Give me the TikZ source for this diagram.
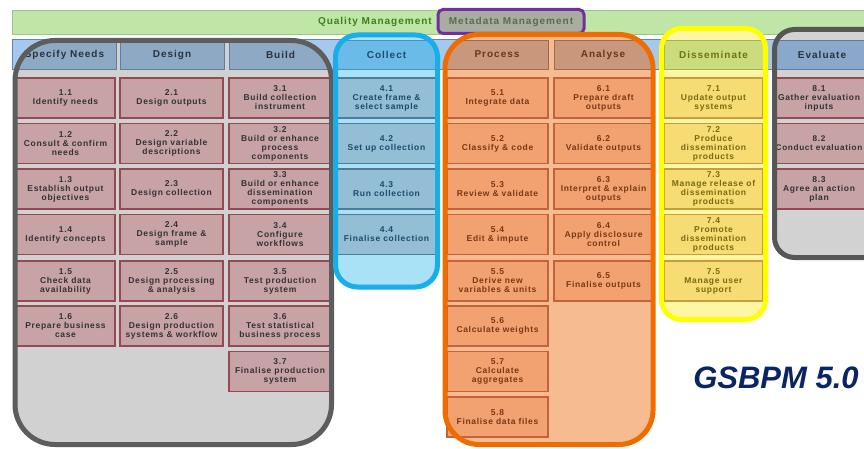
\documentclass[tikz,border=0pt]{standalone}
\usepackage{fontspec}
\setmainfont{Liberation Sans}
\newfontfamily\boxfont[LetterSpace=8]{Liberation Sans}
\newfontfamily\hdrfont[LetterSpace=10]{Liberation Sans}
\definecolor{qmFill}{HTML}{BFE6A6}
\definecolor{qmDraw}{HTML}{98C888}
\definecolor{qmTxt}{HTML}{3E7F1E}
\definecolor{mdFill}{HTML}{A8ADA0}
\definecolor{mdDraw}{HTML}{7030A0}
\definecolor{mdTxt}{HTML}{5B6B52}
\definecolor{stripFill}{HTML}{A5C8EC}
\definecolor{stripDraw}{HTML}{5A86BB}
\definecolor{gReg}{HTML}{D1D1D1}
\definecolor{gLine}{HTML}{5D5D5D}
\definecolor{gHdr}{HTML}{8EA9C3}
\definecolor{gHdrB}{HTML}{5B7EA3}
\definecolor{gHdrT}{HTML}{2A323E}
\definecolor{gBox}{HTML}{C7A3A6}
\definecolor{gBoxB}{HTML}{944A52}
\definecolor{gTxt}{HTML}{333333}
\definecolor{bReg}{HTML}{A9E1F7}
\definecolor{bLine}{HTML}{17AEEA}
\definecolor{bHdr}{HTML}{6BBBE9}
\definecolor{bHdrB}{HTML}{4D90C0}
\definecolor{bTxt}{HTML}{1D4B6B}
\definecolor{bBox}{HTML}{94BDD6}
\definecolor{bBoxB}{HTML}{4D7C9A}
\definecolor{oReg}{HTML}{F6BB8E}
\definecolor{oLine}{HTML}{EF6C00}
\definecolor{oHdr}{HTML}{C9987C}
\definecolor{oHdrB}{HTML}{9C6B50}
\definecolor{oHdrT}{HTML}{6B3618}
\definecolor{oBox}{HTML}{F1A270}
\definecolor{oBoxB}{HTML}{C4633A}
\definecolor{oTxt}{HTML}{7A3814}
\definecolor{yReg}{HTML}{FDF6A4}
\definecolor{yLine}{HTML}{FFFF00}
\definecolor{yHdr}{HTML}{CADC7C}
\definecolor{yHdrB}{HTML}{A8B050}
\definecolor{yHdrT}{HTML}{6D7318}
\definecolor{yBox}{HTML}{F6DC73}
\definecolor{yBoxB}{HTML}{C99D3A}
\definecolor{yTxt}{HTML}{7B6A12}
\definecolor{eReg}{HTML}{D2D2D2}
\definecolor{eLine}{HTML}{565656}
\definecolor{eHdr}{HTML}{8AA8C9}
\definecolor{eHdrB}{HTML}{5A7EA8}
\definecolor{navy}{HTML}{0B2463}
\tikzset{
  hdr/.style={draw, line width=0.8pt, minimum height=29pt, inner sep=0pt,
    font=\hdrfont\bfseries\fontsize{10}{12}\selectfont},
  hG/.style={hdr, fill=gHdr, draw=gHdrB, text=gHdrT},
  hB/.style={hdr, fill=bHdr, draw=bHdrB, text=bTxt},
  hO/.style={hdr, fill=oHdr, draw=oHdrB, text=oHdrT},
  hY/.style={hdr, fill=yHdr, draw=yHdrB, text=yHdrT},
  hE/.style={hdr, fill=eHdr, draw=eHdrB, text=gHdrT},
  tsk/.style={draw, line width=1.1pt, minimum height=40pt, inner sep=1pt, align=center,
    font=\boxfont\bfseries\fontsize{8.5}{9}\selectfont},
  tG/.style={tsk, fill=gBox, draw=gBoxB, text=gTxt},
  tB/.style={tsk, fill=bBox, draw=bBoxB, text=bTxt},
  tO/.style={tsk, fill=oBox, draw=oBoxB, text=oTxt},
  tY/.style={tsk, fill=yBox, draw=yBoxB, text=yTxt},
  region/.style={line width=5pt},
}
\begin{document}
\begin{tikzpicture}[x=1pt, y=-1pt]
\useasboundingbox (0,0) rectangle (864,449);
\clip (0,0) rectangle (864,449);
\fill[white] (0,0) rectangle (864,449);
% quality management bar
\draw[fill=qmFill, draw=qmDraw, line width=0.8pt] (12,10) rectangle (880,34);
\node[anchor=east, text=qmTxt, font=\hdrfont\bfseries\fontsize{10}{12}\selectfont, inner sep=0pt] (qm) at (432,22) {Quality Management};
\node[draw=mdDraw, fill=mdFill, line width=3pt, rounded corners=5pt, minimum width=146pt, minimum height=24pt, inner sep=0pt,
  text=mdTxt, font=\hdrfont\bfseries\fontsize{10}{12}\selectfont] (md) at (511,21.5) {Metadata Management};
% header strip
\draw[fill=stripFill, draw=stripDraw, line width=0.8pt] (12.5,39.5) rectangle (880,69.5);
% region fills
\fill[gReg, rounded corners=40pt] (15,40.5) rectangle (331.5,444.5);
\fill[bReg, rounded corners=22pt] (335.5,35) rectangle (437.5,287);
\fill[oReg, rounded corners=34pt] (445,34.5) rectangle (653,444.5);
\fill[yReg, rounded corners=20pt] (661.5,28.5) rectangle (765.5,319.5);
\fill[eReg, rounded corners=20pt] (774.5,29.5) rectangle (900,257.5);
% headers clipped to their regions
\begin{scope}
  \clip[rounded corners=40pt] (15,40.5) rectangle (331.5,444.5);
  \node[hG, minimum width=103pt] (h1) at (64.5,54.5) {Specify Needs};
  \node[hG, minimum width=104pt] (h2) at (172,54.5) {Design};
  \node[hG, minimum width=103pt] (h3) at (280.5,54.5) {Build};
\end{scope}
\begin{scope}
  \clip[rounded corners=22pt] (335.5,35) rectangle (437.5,287);
  \node[hB, minimum width=99pt] (h4) at (386.5,54.5) {Collect};
\end{scope}
\begin{scope}
  \clip[rounded corners=34pt] (445,34.5) rectangle (653,444.5);
  \node[hO, minimum width=102pt] (h5) at (497,54.5) {Process};
  \node[hO, minimum width=98pt] (h6) at (603,54.5) {Analyse};
\end{scope}
\begin{scope}
  \clip[rounded corners=20pt] (661.5,28.5) rectangle (765.5,319.5);
  \node[hY, minimum width=99pt] (h7) at (713.5,55) {Disseminate};
\end{scope}
\begin{scope}
  \clip[rounded corners=20pt] (774.5,29.5) rectangle (900,257.5);
  \node[hE, minimum width=96pt] (h8) at (822,55) {Evaluate};
\end{scope}
% column 1
\node[tG, minimum width=99pt] (t11) at (65.5,98) {1.1\\Identify needs};
\node[tG, minimum width=99pt] (t12) at (65.5,143.5) {1.2\\Consult \& confirm\\needs};
\node[tG, minimum width=99pt] (t13) at (65.5,189) {1.3\\Establish output\\objectives};
\node[tG, minimum width=99pt] (t14) at (65.5,234.5) {1.4\\Identify concepts};
\node[tG, minimum width=99pt] (t15) at (65.5,281) {1.5\\Check data\\availability};
\node[tG, minimum width=99pt] (t16) at (65.5,326) {1.6\\Prepare business\\case};
% column 2
\node[tG, minimum width=103pt] (t21) at (171.5,98) {2.1\\Design outputs};
\node[tG, minimum width=103pt] (t22) at (171.5,143.5) {2.2\\Design variable\\descriptions};
\node[tG, minimum width=103pt] (t23) at (171.5,189) {2.3\\Design collection};
\node[tG, minimum width=103pt] (t24) at (171.5,234.5) {2.4\\Design frame \&\\sample};
\node[tG, minimum width=103pt] (t25) at (171.5,281) {2.5\\Design processing\\\& analysis};
\node[tG, minimum width=103pt] (t26) at (171.5,326) {2.6\\Design production\\systems \& workflow};
% column 3
\node[tG, minimum width=102pt] (t31) at (280,98) {3.1\\Build collection\\instrument};
\node[tG, minimum width=102pt] (t32) at (280,143.5) {3.2\\Build or enhance\\process\\components};
\node[tG, minimum width=102pt] (t33) at (280,189) {3.3\\Build or enhance\\dissemination\\components};
\node[tG, minimum width=102pt] (t34) at (280,234.5) {3.4\\Configure\\workflows};
\node[tG, minimum width=102pt] (t35) at (280,281) {3.5\\Test production\\system};
\node[tG, minimum width=102pt] (t36) at (280,326) {3.6\\Test statistical\\business process};
\node[tG, minimum width=102pt] (t37) at (280,371.5) {3.7\\Finalise production\\system};
% column 4
\node[tB, minimum width=99pt] (t41) at (386.5,98) {4.1\\Create frame \&\\select sample};
\node[tB, minimum width=99pt] (t42) at (386.5,143.5) {4.2\\Set up collection};
\node[tB, minimum width=99pt] (t43) at (386.5,189) {4.3\\Run collection};
\node[tB, minimum width=99pt] (t44) at (386.5,234.5) {4.4\\Finalise collection};
% column 5
\node[tO, minimum width=101pt] (t51) at (497.5,98) {5.1\\Integrate data};
\node[tO, minimum width=101pt] (t52) at (497.5,143.5) {5.2\\Classify \& code};
\node[tO, minimum width=101pt] (t53) at (497.5,189) {5.3\\Review \& validate};
\node[tO, minimum width=101pt] (t54) at (497.5,234.5) {5.4\\Edit \& impute};
\node[tO, minimum width=101pt] (t55) at (497.5,281) {5.5\\Derive new\\variables \& units};
\node[tO, minimum width=101pt] (t56) at (497.5,326) {5.6\\Calculate weights};
\node[tO, minimum width=101pt] (t57) at (497.5,371.5) {5.7\\Calculate\\aggregates};
\node[tO, minimum width=101pt] (t58) at (497.5,417) {5.8\\Finalise data files};
% column 6
\node[tO, minimum width=99pt] (t61) at (603.5,98) {6.1\\Prepare draft\\outputs};
\node[tO, minimum width=99pt] (t62) at (603.5,143.5) {6.2\\Validate outputs};
\node[tO, minimum width=99pt] (t63) at (603.5,189) {6.3\\Interpret \& explain\\outputs};
\node[tO, minimum width=99pt] (t64) at (603.5,234.5) {6.4\\Apply disclosure\\control};
\node[tO, minimum width=99pt] (t65) at (603.5,281) {6.5\\Finalise outputs};
% column 7
\node[tY, minimum width=99pt] (t71) at (713.5,98) {7.1\\Update output\\systems};
\node[tY, minimum width=99pt] (t72) at (713.5,143.5) {7.2\\Produce\\dissemination\\products};
\node[tY, minimum width=99pt] (t73) at (713.5,189) {7.3\\Manage release of\\dissemination\\products};
\node[tY, minimum width=99pt] (t74) at (713.5,234.5) {7.4\\Promote\\dissemination\\products};
\node[tY, minimum width=99pt] (t75) at (713.5,281) {7.5\\Manage user\\support};
% column 8
\node[tG, minimum width=92pt] (t81) at (819,98) {8.1\\Gather evaluation\\inputs};
\node[tG, minimum width=92pt, font=\boxfont\bfseries\fontsize{8.2}{9}\selectfont] (t82) at (819,143.5) {8.2\\Conduct evaluation};
\node[tG, minimum width=92pt] (t83) at (819,189) {8.3\\Agree an action\\plan};
% region outlines
\draw[region, draw=gLine, rounded corners=40pt] (15,40.5) rectangle (331.5,444.5);
\draw[region, draw=bLine, rounded corners=22pt] (335.5,35) rectangle (437.5,287);
\draw[region, draw=oLine, rounded corners=34pt] (445,34.5) rectangle (653,444.5);
\draw[region, draw=yLine, rounded corners=20pt] (661.5,28.5) rectangle (765.5,319.5);
\draw[region, draw=eLine, rounded corners=20pt] (774.5,29.5) rectangle (900,257.5);
% title
\node[anchor=base, text=navy, font=\bfseries\itshape\fontsize{31}{34}\selectfont, inner sep=0pt] (title) at (776,388) {GSBPM 5.0};
\end{tikzpicture}
\end{document}
